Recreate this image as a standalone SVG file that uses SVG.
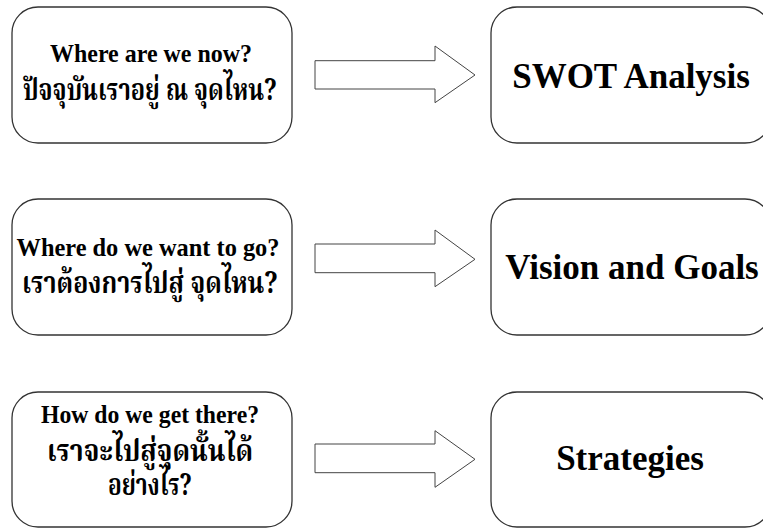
<svg xmlns="http://www.w3.org/2000/svg" width="763" height="528" viewBox="0 0 763 528">
  <style>
    .box { fill: #ffffff; stroke: #333333; stroke-width: 1.3; }
    .arrow { fill: #ffffff; stroke: #444444; stroke-width: 1; stroke-linejoin: miter; }
    .en { font-family: "Liberation Serif", "Times New Roman", serif; font-weight: bold; fill: #000000; text-anchor: middle; }
    .q { font-size: 26px; }
    .big { font-size: 35px; }
    .th { font-family: "Norasi", "Noto Serif Thai", "Noto Sans Thai Looped", "Garuda", "Loma", "Noto Sans Thai", "DejaVu Sans", serif; font-size: 30px; font-weight: bold; fill: #000000; text-anchor: middle; }
  </style>
  <rect width="763" height="528" fill="#ffffff"/>

  <!-- question boxes -->
  <g id="q-now">
    <rect class="box" x="12" y="7" width="280" height="136" rx="26" ry="26"/>
    <text class="en q" x="151" y="62" textLength="202" lengthAdjust="spacingAndGlyphs">Where are we now?</text>
    <text class="th" x="150" y="100" textLength="254" lengthAdjust="spacingAndGlyphs">ปัจจุบันเราอยู่ ณ จุดไหน?</text>
  </g>
  <g id="q-go">
    <rect class="box" x="12" y="199" width="280" height="136" rx="26" ry="26"/>
    <text class="en q" x="148" y="256" textLength="263" lengthAdjust="spacingAndGlyphs">Where do we want to go?</text>
    <text class="th" x="150" y="293" textLength="256" lengthAdjust="spacingAndGlyphs">เราต้องการไปสู่ จุดไหน?</text>
  </g>
  <g id="q-how">
    <rect class="box" x="12" y="392" width="280" height="135" rx="26" ry="26"/>
    <text class="en q" x="150" y="423" textLength="218" lengthAdjust="spacingAndGlyphs">How do we get there?</text>
    <text class="th" x="150" y="461" textLength="206" lengthAdjust="spacingAndGlyphs">เราจะไปสู่จุดนั้นได้</text>
    <text class="th" x="150" y="495" textLength="84" lengthAdjust="spacingAndGlyphs">อย่างไร?</text>
  </g>

  <!-- answer boxes -->
  <g id="a-swot">
    <rect class="box" x="491" y="7" width="280" height="136" rx="26" ry="26"/>
    <text class="en big" x="631" y="88">SWOT Analysis</text>
  </g>
  <g id="a-vision">
    <rect class="box" x="491" y="199" width="280" height="136" rx="26" ry="26"/>
    <text class="en big" x="632" y="279">Vision and Goals</text>
  </g>
  <g id="a-strategies">
    <rect class="box" x="491" y="392" width="280" height="135" rx="26" ry="26"/>
    <text class="en big" x="630" y="470">Strategies</text>
  </g>

  <!-- block arrows -->
  <g id="connectors">
    <path class="arrow" d="M315,60.7 H435 V46 L475,75 L435,102.7 V89 H315 Z"/>
    <path class="arrow" d="M315,244 H435 V230 L475,259.3 L435,286.7 V272.7 H315 Z"/>
    <path class="arrow" d="M315,444 H435 V430.7 L475,459.3 L435,487.3 V472.7 H315 Z"/>
  </g>
</svg>
